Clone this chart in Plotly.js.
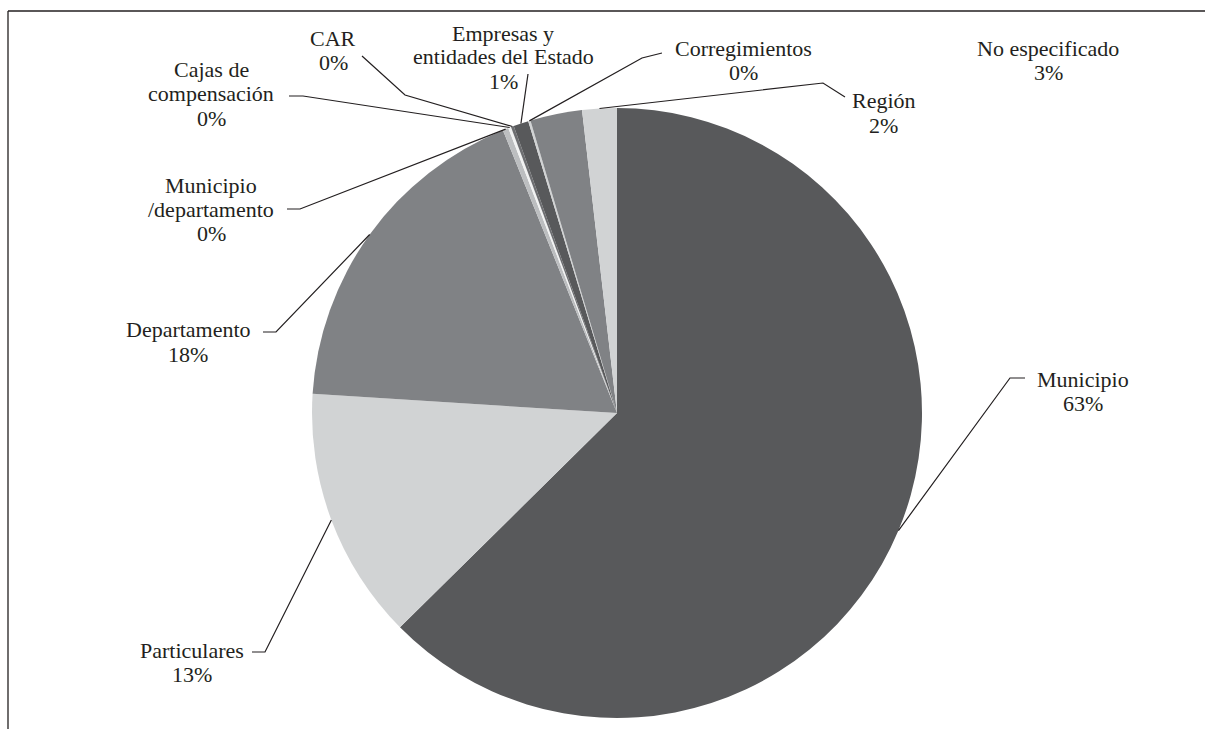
<!DOCTYPE html>
<html>
<head>
<meta charset="utf-8">
<script src="https://cdn.plot.ly/plotly-3.0.1.min.js"></script>
<style>html,body{margin:0;padding:0;background:#fff;}</style>
</head>
<body>
<div id="chart" style="width:1205px;height:729px;"></div>
<script>
// ---- data ----
const categories = ["Municipio", "Particulares", "Departamento", "Municipio /departamento",
  "Cajas de compensación", "CAR", "Empresas y entidades del Estado", "Corregimientos",
  "No especificado", "Región"];
const values = [62.6, 13.4, 17.9, 0.3, 0.15, 0.15, 0.8, 0.12, 2.75, 1.83];
const labelLines = [["Municipio"], ["Particulares"], ["Departamento"], ["Municipio", "/departamento"],
  ["Cajas de", "compensación"], ["CAR"], ["Empresas y", "entidades del Estado"], ["Corregimientos"],
  ["No especificado"], ["Región"]];

// ---- styles / layout ----
const sliceColors = ["#58595b", "#d1d3d4", "#808285", "#bcbec0", "#f1f2f2", "#6d6e71",
  "#58595b", "#d1d3d4", "#808285", "#d1d3d4"];
const W = 1205, H = 729;
const CX = 617, CY = 413, R = 305;
const FONT = "Liberation Serif";
const FS = 22, LINE = 24, TXT = "#231f20";
// label placement: center x, first baseline y, leader points (from label toward slice)
const labelPos = [
  {cx: 1083, y: 386, lead: [[1025, 378], [1010, 378]]},
  {cx: 192, y: 657, lead: [[252, 652], [265, 652]]},
  {cx: 188, y: 337, lead: [[263, 332], [276, 332]]},
  {cx: 211, y: 192, lead: [[287, 209], [300, 209]]},
  {cx: 211, y: 77, lead: [[289, 96], [303, 96]]},
  {cx: 333, y: 46, lead: [[362, 56], [405, 95]]},
  {cx: 503, y: 40, lead: [[528, 74]]},
  {cx: 743, y: 55, lead: [[662, 53], [642, 58]]},
  {cx: 1048, y: 56, lead: null},
  {cx: 884, y: 108, lead: [[845, 97], [823, 83]]}
];

const px = x => x / W;
const py = y => 1 - y / H;

const total = values.reduce((a, b) => a + b, 0);
let cum = 0;
const midAngles = values.map(v => { const m = (cum + v / 2) / total; cum += v; return m * 2 * Math.PI; });

const annotations = [];
const shapes = [
  {type: "line", xref: "paper", yref: "paper", x0: px(8), y0: py(11), x1: px(1205), y1: py(11),
   line: {color: TXT, width: 1.3}},
  {type: "line", xref: "paper", yref: "paper", x0: px(8), y0: py(11), x1: px(8), y1: py(729),
   line: {color: TXT, width: 1.3}}
];

categories.forEach((c, i) => {
  const p = labelPos[i];
  const lines = labelLines[i].concat([Math.round(values[i] / total * 100) + "%"]);
  lines.forEach((t, k) => {
    annotations.push({
      xref: "paper", yref: "paper", x: px(p.cx), y: py(p.y + k * LINE - 7),
      xanchor: "center", yanchor: "middle", showarrow: false, text: t, borderpad: 0,
      font: {family: FONT, size: FS, color: TXT}
    });
  });
  if (p.lead) {
    const a = midAngles[i];
    const end = [CX + R * Math.sin(a), CY - R * Math.cos(a)];
    const pts = p.lead.concat([end]);
    let d = "M " + px(pts[0][0]) + " " + py(pts[0][1]);
    for (let k = 1; k < pts.length; k++) d += " L " + px(pts[k][0]) + " " + py(pts[k][1]);
    shapes.push({type: "path", xref: "paper", yref: "paper", path: d,
      line: {color: TXT, width: 1.2}, layer: "above"});
  }
});

const trace = {
  type: "pie",
  labels: categories,
  values: values,
  sort: false,
  direction: "clockwise",
  rotation: 0,
  textinfo: "none",
  hoverinfo: "label+percent",
  marker: {colors: sliceColors, line: {width: 0}},
  domain: {x: [(CX - R) / W, (CX + R) / W], y: [1 - (CY + R) / H, 1 - (CY - R) / H]},
  showlegend: false
};

const layout = {
  width: W, height: H,
  margin: {l: 0, r: 0, t: 0, b: 0},
  paper_bgcolor: "#ffffff",
  font: {family: FONT, size: FS, color: TXT},
  showlegend: false,
  annotations: annotations,
  shapes: shapes
};

Plotly.newPlot("chart", [trace], layout, {displayModeBar: false, staticPlot: true});
</script>
</body>
</html>
